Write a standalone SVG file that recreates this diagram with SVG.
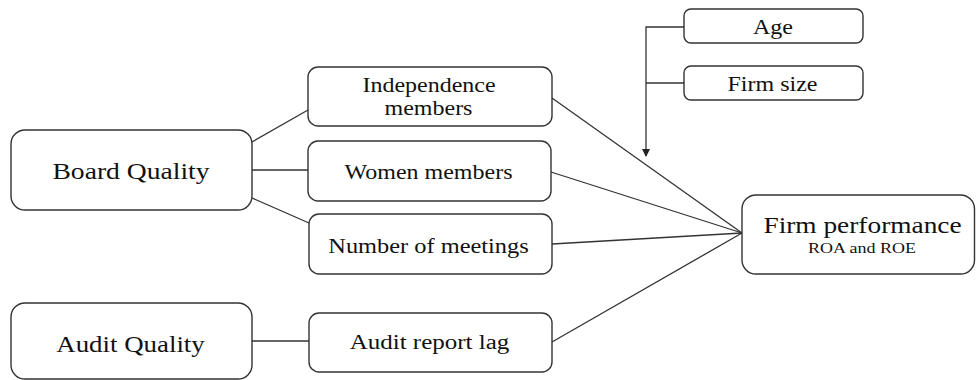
<svg xmlns="http://www.w3.org/2000/svg" width="976" height="380" viewBox="0 0 976 380">
  <style>
    .box { fill: #ffffff; stroke: #333333; stroke-width: 1.4; }
    .ln { fill: none; stroke: #333333; stroke-width: 1.3; }
  </style>
  <defs>
    <marker id="arr" markerWidth="8" markerHeight="8" refX="7" refY="4" orient="auto" markerUnits="userSpaceOnUse">
      <path d="M0,0 L8,4 L0,8 Z" fill="#222222"/>
    </marker>
  </defs>
  <rect width="976" height="380" fill="#ffffff"/>

  <g id="connectors">
    <line class="ln" x1="252" y1="142" x2="308" y2="110"/>
    <line class="ln" x1="252" y1="170" x2="308" y2="170"/>
    <line class="ln" x1="252" y1="198" x2="309" y2="223"/>
    <line class="ln" x1="252" y1="341" x2="309" y2="341"/>
    <line class="ln" x1="552" y1="98" x2="742" y2="233"/>
    <line class="ln" x1="551" y1="172" x2="742" y2="233"/>
    <line class="ln" x1="552" y1="244" x2="742" y2="233"/>
    <line class="ln" x1="552" y1="342" x2="742" y2="233"/>
    <path class="ln" d="M684,27 H646 V156" marker-end="url(#arr)"/>
    <line class="ln" x1="646" y1="83" x2="684" y2="83"/>
  </g>

  <g id="board-quality">
    <rect class="box" x="11" y="130" width="241" height="80" rx="14"/>
    <text style="font-family:'Liberation Serif'" font-size="24" fill="#111" text-anchor="middle" transform="translate(131 179) scale(1.15 1)">Board Quality</text>
  </g>
  <g id="independence-members">
    <rect class="box" x="308" y="67" width="244" height="59" rx="10"/>
    <text style="font-family:'Liberation Serif'" font-size="20" fill="#111" text-anchor="middle" transform="translate(429 92) scale(1.2 1)">Independence</text>
    <text style="font-family:'Liberation Serif'" font-size="20" fill="#111" text-anchor="middle" transform="translate(428.5 115) scale(1.2 1)">members</text>
  </g>
  <g id="women-members">
    <rect class="box" x="308" y="141" width="243" height="60" rx="10"/>
    <text style="font-family:'Liberation Serif'" font-size="20" fill="#111" text-anchor="middle" transform="translate(428.5 179) scale(1.2 1)">Women members</text>
  </g>
  <g id="number-of-meetings">
    <rect class="box" x="309" y="214" width="243" height="60" rx="10"/>
    <text style="font-family:'Liberation Serif'" font-size="20" fill="#111" text-anchor="middle" transform="translate(428.5 253) scale(1.22 1)">Number of meetings</text>
  </g>
  <g id="audit-quality">
    <rect class="box" x="11" y="303" width="241" height="76" rx="14"/>
    <text style="font-family:'Liberation Serif'" font-size="24" fill="#111" text-anchor="middle" transform="translate(130.5 352) scale(1.12 1)">Audit Quality</text>
  </g>
  <g id="audit-report-lag">
    <rect class="box" x="309" y="313" width="243" height="59" rx="10"/>
    <text style="font-family:'Liberation Serif'" font-size="20" fill="#111" text-anchor="middle" transform="translate(429.5 349) scale(1.25 1)">Audit report lag</text>
  </g>
  <g id="age">
    <rect class="box" x="684" y="9" width="179" height="34" rx="7"/>
    <text style="font-family:'Liberation Serif'" font-size="20" fill="#111" text-anchor="middle" transform="translate(773 34) scale(1.2 1)">Age</text>
  </g>
  <g id="firm-size">
    <rect class="box" x="684" y="66" width="179" height="34" rx="7"/>
    <text style="font-family:'Liberation Serif'" font-size="20" fill="#111" text-anchor="middle" transform="translate(772.5 91) scale(1.2 1)">Firm size</text>
  </g>
  <g id="firm-performance">
    <rect class="box" x="742" y="195" width="232.5" height="79" rx="14"/>
    <text style="font-family:'Liberation Serif'" font-size="24" fill="#111" text-anchor="middle" transform="translate(862.5 233) scale(1.14 1)">Firm performance</text>
    <text style="font-family:'Liberation Serif'" font-size="15" fill="#111" text-anchor="middle" transform="translate(862 253) scale(1.2 1)">ROA and ROE</text>
  </g>
</svg>
